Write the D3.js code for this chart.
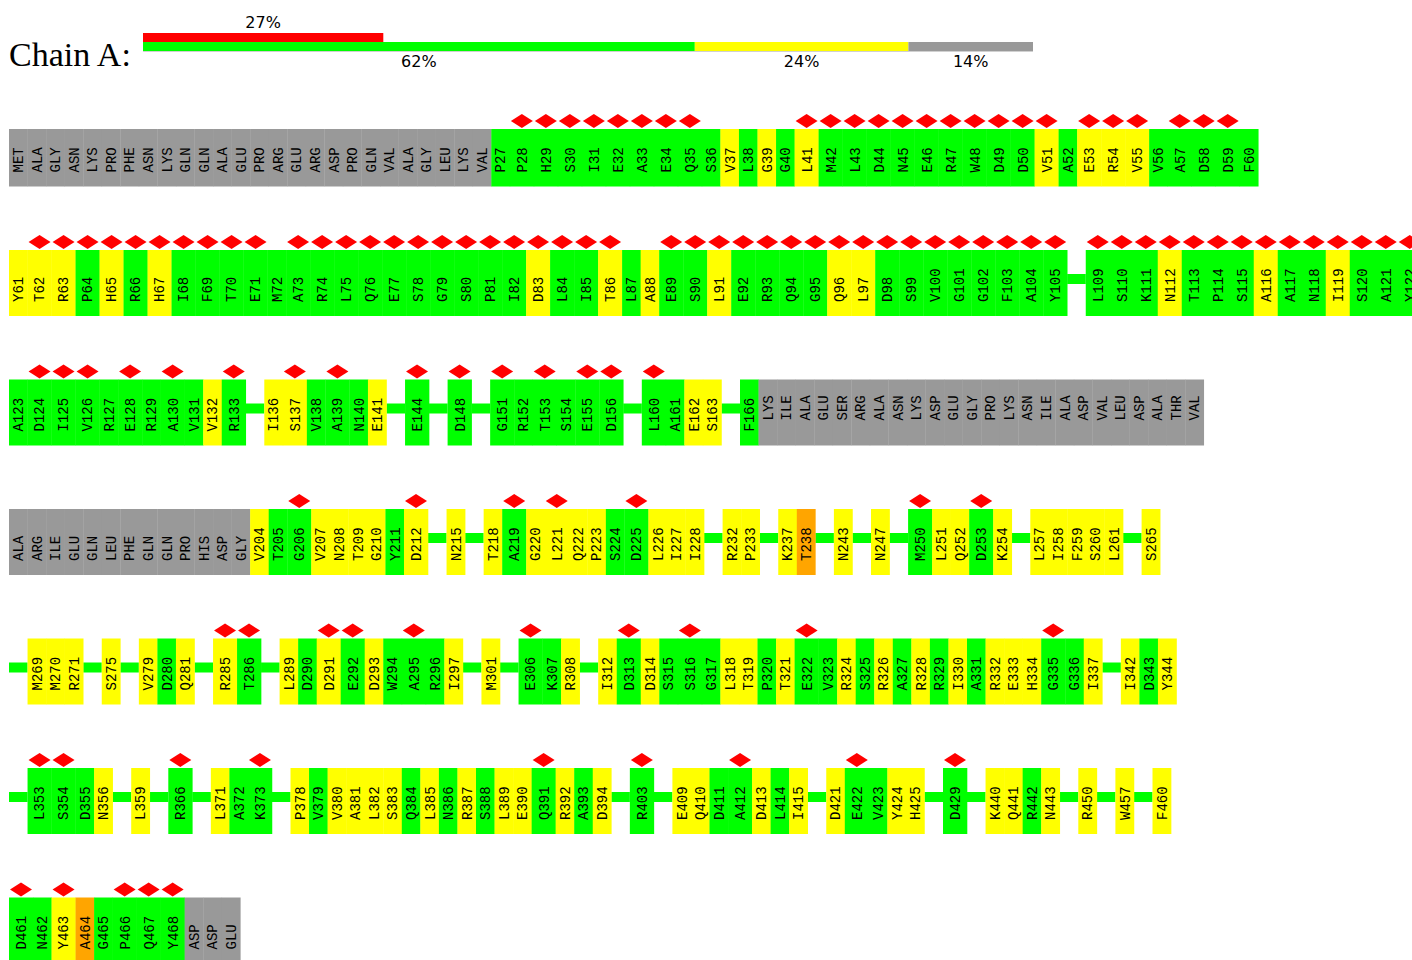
<!DOCTYPE html>
<html>
<head>
<meta charset="utf-8">
<script src="https://cdn.jsdelivr.net/npm/d3@7"></script>
<style>
  body { margin: 0; background: #fff; }
  svg { display: block; }
</style>
</head>
<body>
<div id="chart"></div>
<script>
// chain summary bar
var chainLabel = "Chain A:";
var qualityPct = [62, 24, 14];          // good, one outlier class, not modelled
var outlierPct = 27;

// residue rows (first residue number of each row)
var rowStarts = [1, 61, 123, 191, 266, 345, 461];
var lastResidue = 471;

// residues not in the model
var unmodelledN = ["MET","ALA","GLY","ASN","LYS","PRO","PHE","ASN","LYS","GLN","GLN","ALA","GLU",
                   "PRO","ARG","GLU","ARG","ASP","PRO","GLN","VAL","ALA","GLY","LEU","LYS","VAL"];      // 1-26
var unmodelledMid = ["LYS","ILE","ALA","GLU","SER","ARG","ALA","ASN","LYS","ASP","GLU","GLY","PRO",
                     "LYS","ASN","ILE","ALA","ASP","VAL","LEU","ASP","ALA","THR","VAL",
                     "ALA","ARG","ILE","GLU","GLN","LEU","PHE","GLN","GLN","PRO","HIS","ASP","GLY"];   // 167-203
var unmodelledC = ["ASP","ASP","GLU"];                                                              // 469-471

// modelled residues that are drawn with a label (the others collapse to a line)
var shownResidues = [
  "P27","P28","H29","S30","I31","E32","A33","E34","Q35","S36","V37","L38","G39","G40","L41","M42","L43",
  "D44","N45","E46","R47","W48","D49","D50","V51","A52","E53","R54","V55","V56","A57","D58","D59","F60",
  "Y61","T62","R63","P64","H65","R66","H67","I68","F69","T70","E71","M72","A73","R74","L75","Q76","E77",
  "S78","G79","S80","P81","I82","D83","L84","I85","T86","L87","A88","E89","S90","L91","E92","R93","Q94",
  "G95","Q96","L97","D98","S99","V100","G101","G102","F103","A104","Y105","L109","S110","K111","N112",
  "T113","P114","S115","A116","A117","N118","I119","S120","A121","Y122",
  "A123","D124","I125","V126","R127","E128","R129","A130","V131","V132","R133","I136","S137","V138",
  "A139","N140","E141","E144","D148","G151","R152","T153","S154","E155","D156","L160","A161","E162",
  "S163","F166",
  "V204","T205","G206","V207","N208","T209","G210","Y211","D212","N215","T218","A219","G220","L221",
  "Q222","P223","S224","D225","L226","I227","I228","R232","P233","K237","T238","N243","N247","M250",
  "L251","Q252","D253","K254","L257","I258","F259","S260","L261","S265",
  "M269","M270","R271","S275","V279","D280","Q281","R285","T286","L289","D290","D291","E292","D293",
  "W294","A295","R296","I297","M301","E306","K307","R308","I312","D313","D314","S315","S316","G317",
  "L318","T319","P320","T321","E322","V323","R324","S325","R326","A327","R328","R329","I330","A331",
  "R332","E333","H334","G335","G336","I337","I342","D343","Y344",
  "L353","S354","D355","N356","L359","R366","L371","A372","K373","P378","V379","V380","A381","L382",
  "S383","Q384","L385","N386","R387","S388","L389","E390","Q391","R392","A393","D394","R403","E409",
  "Q410","D411","A412","D413","L414","I415","D421","E422","V423","Y424","H425","D429","K440","Q441",
  "R442","N443","R450","W457","F460",
  "D461","N462","Y463","A464","G465","P466","Q467","Y468"
];

// residues with one outlier class (yellow) and two classes (orange)
var yellowResidues = [37,39,41,51,53,54,55,
  61,62,63,65,67,83,86,88,91,96,97,112,116,119,
  132,136,137,141,162,163,
  204,207,208,209,210,212,215,218,220,221,222,223,226,227,228,232,233,237,243,247,251,252,254,
  257,258,259,260,261,265,
  269,270,271,275,279,281,285,289,291,293,297,301,308,312,314,318,319,321,324,326,328,330,332,
  333,334,337,342,344,
  356,359,371,378,380,381,382,383,385,387,389,390,392,394,409,410,413,415,421,424,425,440,441,
  443,450,457,460,
  463];
var orangeResidues = [238, 464];

// residues marked with a red diamond
var diamondResidues = [28,29,30,31,32,33,34,35,41,42,43,44,45,46,47,48,49,50,51,53,54,55,57,58,59,
  62,63,64,65,66,67,68,69,70,71,73,74,75,76,77,78,79,80,81,82,83,84,85,86,
  89,90,91,92,93,94,95,96,97,98,99,100,101,102,103,104,105,
  109,110,111,112,113,114,115,116,117,118,119,120,121,122,
  124,125,126,128,130,133,137,139,144,148,151,153,155,156,160,
  206,212,219,221,225,250,253,
  285,286,291,292,295,306,313,316,322,335,
  353,354,366,373,391,403,412,422,429,
  461,463,466,467,468];

var colors = { g: "#00ff00", y: "#ffff00", o: "#ffa500", u: "#999999" };

var W = 1412, H = 960;
var svg = d3.select("#chart").append("svg").attr("width", W).attr("height", H);

// ---- summary bar ----
var bx = d3.scaleLinear().domain([0, 100]).range([143, 1033]);

svg.append("text")
  .attr("x", 9).attr("y", 66)
  .style("font", "34px 'Liberation Serif', serif")
  .text(chainLabel);

svg.append("rect")
  .attr("x", bx(0)).attr("y", 33)
  .attr("width", bx(outlierPct) - bx(0)).attr("height", 9)
  .attr("fill", "#ff0000");
svg.append("text")
  .attr("x", (bx(0) + bx(outlierPct)) / 2).attr("y", 28)
  .attr("text-anchor", "middle")
  .style("font", "16px 'DejaVu Sans', sans-serif")
  .text(outlierPct + "%");

var qColors = [colors.g, colors.y, colors.u];
var acc = 0;
qualityPct.forEach(function (p, i) {
  var x0 = bx(acc), x1 = bx(acc + p);
  svg.append("rect")
    .attr("x", x0).attr("y", 42)
    .attr("width", x1 - x0).attr("height", 9)
    .attr("fill", qColors[i]);
  svg.append("text")
    .attr("x", (x0 + x1) / 2).attr("y", 67)
    .attr("text-anchor", "middle")
    .style("font", "16px 'DejaVu Sans', sans-serif")
    .text(p + "%");
  acc += p;
});
svg.append("line")
  .attr("x1", bx(0)).attr("x2", bx(100)).attr("y1", 51.5).attr("y2", 51.5)
  .attr("stroke", "#d0d0d0").attr("stroke-width", 1);

// ---- residue plot ----
var byNum = new Map();
unmodelledN.forEach(function (n, i) { byNum.set(1 + i, { label: n, q: "u" }); });
unmodelledMid.forEach(function (n, i) { byNum.set(167 + i, { label: n, q: "u" }); });
unmodelledC.forEach(function (n, i) { byNum.set(469 + i, { label: n, q: "u" }); });
shownResidues.forEach(function (l) {
  var k = +l.slice(1);
  byNum.set(k, {
    label: l,
    q: orangeResidues.indexOf(k) >= 0 ? "o" : (yellowResidues.indexOf(k) >= 0 ? "y" : "g"),
    out: diamondResidues.indexOf(k) >= 0
  });
});

var slot = 18.55, wideSlot = 24;
// x in slot units -> pixels
var x = d3.scaleLinear().domain([0, 1]).range([9, 9 + slot]);
var wideUnits = wideSlot / slot;
// the unmodelled tail of row 3 sits higher in its box
var greyLift = [0, 0, 11, 0, 0, 0, 0];

var rowTop = 129;
rowStarts.forEach(function (s, ri) {
  var e = ri < rowStarts.length - 1 ? rowStarts[ri + 1] - 1 : lastResidue;
  var items = [], u = 0;
  for (var k = s; k <= e; k++) {
    var r = byNum.get(k);
    if (!r) {
      if (!items.length || items[items.length - 1].type !== "gap") {
        items.push({ type: "gap", u0: u, w: 1 });
        u += 1;
      }
      continue;
    }
    var w = r.out ? wideUnits : 1;
    items.push({ type: "res", label: r.label, q: r.q, out: r.out, u0: u, w: w });
    u += w;
  }
  var res = items.filter(function (d) { return d.type === "res"; });
  var maxLen = d3.max(res, function (d) { return d.label.length; });
  var h = 32 + 8.5 * maxLen;

  var g = svg.append("g").attr("transform", "translate(0," + rowTop + ")");

  g.selectAll("rect.gap")
    .data(items.filter(function (d) { return d.type === "gap"; }))
    .join("rect").attr("class", "gap")
    .attr("x", function (d) { return x(d.u0); })
    .attr("width", function (d) { return x(d.u0 + d.w) - x(d.u0); })
    .attr("y", 24).attr("height", 10)
    .attr("fill", colors.g);

  g.selectAll("rect.res")
    .data(res)
    .join("rect").attr("class", "res")
    .attr("x", function (d) { return x(d.u0); })
    .attr("width", function (d) { return x(d.u0 + d.w) - x(d.u0) + 0.3; })
    .attr("y", 0).attr("height", h)
    .attr("fill", function (d) { return colors[d.q]; });

  g.selectAll("path.out")
    .data(res.filter(function (d) { return d.out; }))
    .join("path").attr("class", "out")
    .attr("d", function (d) {
      var cx = x(d.u0 + d.w / 2), cy = -8;
      return "M" + (cx - 11) + "," + cy + "L" + cx + "," + (cy - 7) +
             "L" + (cx + 11) + "," + cy + "L" + cx + "," + (cy + 7) + "Z";
    })
    .attr("fill", "#ff0000");

  g.selectAll("text.lab")
    .data(res)
    .join("text").attr("class", "lab")
    .attr("transform", function (d) {
      var yb = h - 14 - (d.q === "u" ? greyLift[ri] : 0);
      return "translate(" + x(d.u0 + d.w / 2) + "," + yb + ") rotate(-90)";
    })
    .attr("dy", "0.35em")
    .style("font", "14px 'Liberation Mono', monospace")
    .attr("fill", "#000")
    .text(function (d) { return d.label; });

  rowTop += h + 63.5;
});
</script>
</body>
</html>
